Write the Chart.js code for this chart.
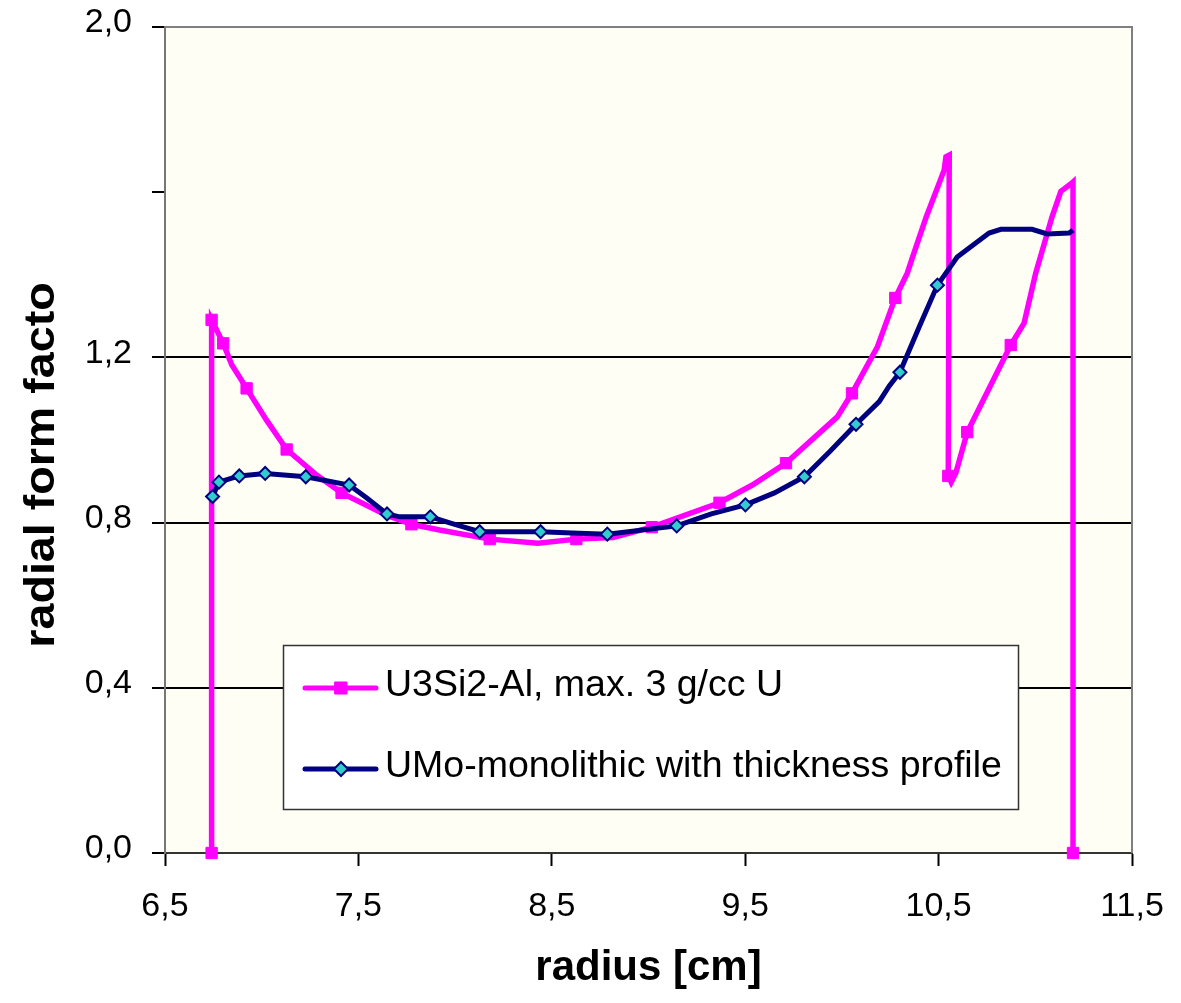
<!DOCTYPE html>
<html>
<head>
<meta charset="utf-8">
<script src="https://cdn.jsdelivr.net/npm/chart.js@4.4.1/dist/chart.umd.min.js"></script>
<style>
  html, body { margin: 0; padding: 0; background: #fff; }
  #wrap { width: 1181px; height: 1003px; }
</style>
</head>
<body>
<div id="wrap"><canvas id="formFactor" width="1181" height="1003"></canvas></div>
<script>
// values
const radiusU3Si2 = [6.741, 6.741, 6.801, 6.845, 6.922, 7.025, 7.129, 7.284, 7.413, 7.645,
  7.774, 7.920, 8.179, 8.428, 8.627, 8.816, 9.017, 9.367, 9.537, 9.711,
  9.976, 10.052, 10.183, 10.276, 10.338, 10.364, 10.436, 10.503, 10.529, 10.538,
  10.555, 10.550, 10.565, 10.589, 10.648, 10.873, 10.942, 11.002, 11.087, 11.132,
  11.183, 11.195, 11.195];
const formU3Si2 = [0, 1.291, 1.234, 1.182, 1.125, 1.048, 0.977, 0.915, 0.872, 0.818,
  0.796, 0.782, 0.760, 0.750, 0.760, 0.764, 0.789, 0.848, 0.891, 0.944,
  1.056, 1.113, 1.225, 1.344, 1.404, 1.441, 1.540, 1.622, 1.654, 1.686,
  1.690, 0.913, 0.898, 0.920, 1.019, 1.230, 1.283, 1.404, 1.541, 1.602,
  1.620, 1.625, 0];
const markedU3Si2 = [0, 1, 2, 4, 6, 8, 10, 12, 14, 16, 17, 19, 21, 23, 31, 34, 35, 42];

const radiusUMo = [6.746, 6.779, 6.884, 7.018, 7.228, 7.452, 7.542, 7.648, 7.714, 7.872,
  7.981, 8.127, 8.442, 8.607, 8.787, 9.146, 9.325, 9.501, 9.651, 9.806,
  9.935, 10.073, 10.193, 10.245, 10.300, 10.400, 10.494, 10.596, 10.761, 10.822,
  10.983, 11.061, 11.175, 11.195];
const formUMo = [0.863, 0.898, 0.913, 0.919, 0.911, 0.891, 0.860, 0.821, 0.814, 0.814,
  0.798, 0.778, 0.778, 0.775, 0.772, 0.792, 0.821, 0.843, 0.872, 0.911,
  0.971, 1.038, 1.093, 1.131, 1.164, 1.274, 1.375, 1.443, 1.501, 1.510,
  1.510, 1.499, 1.501, 1.508];
const markedUMo = [0, 1, 2, 3, 4, 5, 7, 9, 11, 12, 14, 15, 17, 19, 21, 24, 26];

const seriesNames = ['U3Si2-Al, max. 3 g/cc U', 'UMo-monolithic with thickness profile'];
const xTickValues = [6.5, 7.5, 8.5, 9.5, 10.5, 11.5];
const xTickLabels = ['6,5', '7,5', '8,5', '9,5', '10,5', '11,5'];
const yTickValues = [0, 0.4, 0.8, 1.2, 1.6, 2.0];
const yTickLabels = ['0,0', '0,4', '0,8', '1,2', '', '2,0'];

const FONT = "'Liberation Sans', Arial, sans-serif";

function toPoints(xs, ys) {
  return xs.map((x, i) => ({ x: x, y: ys[i] }));
}
function markerRadius(n, marked, r) {
  const out = [];
  for (let i = 0; i < n; i++) out.push(marked.indexOf(i) >= 0 ? r : 0);
  return out;
}

// plot background, frame, y title and the boxed legend
const decor = {
  id: 'decor',
  beforeDraw(chart) {
    const { ctx, chartArea: a } = chart;
    ctx.save();
    ctx.fillStyle = '#fffef5';
    ctx.fillRect(a.left, a.top, a.right - a.left, a.bottom - a.top);
    ctx.restore();
  },
  afterDraw(chart) {
    const { ctx, chartArea: a } = chart;
    ctx.save();
    // grey frame top and right
    ctx.strokeStyle = '#808080';
    ctx.lineWidth = 2;
    ctx.beginPath();
    ctx.moveTo(a.left, a.top);
    ctx.lineTo(a.right, a.top);
    ctx.lineTo(a.right, a.bottom);
    ctx.stroke();

    // y axis title (the original is a bit stretched along its length)
    ctx.fillStyle = '#000';
    ctx.font = 'bold 42px ' + FONT;
    ctx.textAlign = 'center';
    ctx.textBaseline = 'middle';
    ctx.translate(42, 465);
    ctx.rotate(-Math.PI / 2);
    ctx.scale(1.11, 1);
    ctx.fillText('radial form facto', 0, 0);
    ctx.restore();

    // legend box
    ctx.save();
    ctx.fillStyle = '#fff';
    ctx.fillRect(283, 645, 736, 165);
    ctx.strokeStyle = '#333';
    ctx.lineWidth = 1.5;
    ctx.strokeRect(283.5, 645.5, 735, 164);
    const rows = [688, 769];
    chart.data.datasets.forEach((ds, i) => {
      const y = rows[i];
      ctx.strokeStyle = ds.borderColor;
      ctx.lineWidth = 5;
      ctx.lineCap = 'round';
      ctx.beginPath();
      ctx.moveTo(305, y);
      ctx.lineTo(376, y);
      ctx.stroke();
      ctx.fillStyle = ds.pointBackgroundColor;
      ctx.strokeStyle = ds.pointBorderColor;
      ctx.lineWidth = ds.pointBorderWidth;
      ctx.beginPath();
      if (ds.pointStyle === 'rect') {
        ctx.rect(335, y - 6, 12, 12);
      } else {
        ctx.moveTo(341, y - 7);
        ctx.lineTo(348, y);
        ctx.lineTo(341, y + 7);
        ctx.lineTo(334, y);
        ctx.closePath();
      }
      ctx.fill();
      ctx.stroke();
      ctx.fillStyle = '#000';
      ctx.font = '37.5px ' + FONT;
      ctx.textAlign = 'left';
      ctx.textBaseline = 'alphabetic';
      ctx.fillText(ds.label, 385, y + 8);
    });
    ctx.restore();
  }
};

new Chart(document.getElementById('formFactor'), {
  type: 'line',
  data: {
    datasets: [
      {
        label: seriesNames[0],
        data: toPoints(radiusU3Si2, formU3Si2),
        borderColor: '#ff00ff',
        borderWidth: 5.5,
        pointStyle: 'rect',
        pointRadius: markerRadius(radiusU3Si2.length, markedU3Si2, 8),
        pointBackgroundColor: '#ff00ff',
        pointBorderColor: '#ff00ff',
        pointBorderWidth: 1,
        tension: 0,
        clip: 10,
        order: 2
      },
      {
        label: seriesNames[1],
        data: toPoints(radiusUMo, formUMo),
        borderColor: '#000080',
        borderWidth: 5,
        pointStyle: 'rectRot',
        pointRadius: markerRadius(radiusUMo.length, markedUMo, 6.5),
        pointBackgroundColor: '#33cccc',
        pointBorderColor: '#000080',
        pointBorderWidth: 2,
        tension: 0,
        clip: 10,
        order: 1
      }
    ]
  },
  options: {
    responsive: false,
    animation: false,
    layout: { padding: { top: 27, right: 49, bottom: 0, left: 0 } },
    plugins: {
      legend: { display: false },
      tooltip: { enabled: false }
    },
    scales: {
      x: {
        type: 'linear',
        min: 6.5,
        max: 11.5,
        afterBuildTicks: s => { s.ticks = xTickValues.map(v => ({ value: v })); },
        afterFit: s => { s.height = 150; s.paddingLeft = 0; s.paddingRight = 0; },
        ticks: {
          callback: (v, i) => xTickLabels[i],
          color: '#000',
          font: { family: FONT, size: 34 },
          padding: 20,
          maxRotation: 0,
          autoSkip: false
        },
        grid: {
          drawOnChartArea: false,
          tickLength: 13,
          tickColor: '#000',
          tickWidth: 2
        },
        border: { color: '#333', width: 2 },
        title: {
          display: true,
          text: 'radius [cm]',
          color: '#000',
          font: { family: FONT, size: 42, weight: 'bold' },
          padding: { top: 0, bottom: 9 }
        }
      },
      y: {
        type: 'linear',
        min: 0,
        max: 2,
        afterBuildTicks: s => { s.ticks = yTickValues.map(v => ({ value: v })); },
        afterFit: s => { s.width = 165; s.paddingTop = 0; s.paddingBottom = 0; },
        ticks: {
          callback: (v, i) => yTickLabels[i],
          color: '#000',
          font: { family: FONT, size: 34 },
          padding: 20,
          labelOffset: -4,
          autoSkip: false
        },
        grid: {
          color: c => (c.tick && c.tick.value > 0.01 && c.tick.value < 1.5) ? '#000' : 'rgba(0,0,0,0)',
          lineWidth: 2,
          tickLength: 13,
          tickColor: '#000',
          tickWidth: 2
        },
        border: { color: '#777', width: 2 }
      }
    }
  },
  plugins: [decor]
});
</script>
</body>
</html>
